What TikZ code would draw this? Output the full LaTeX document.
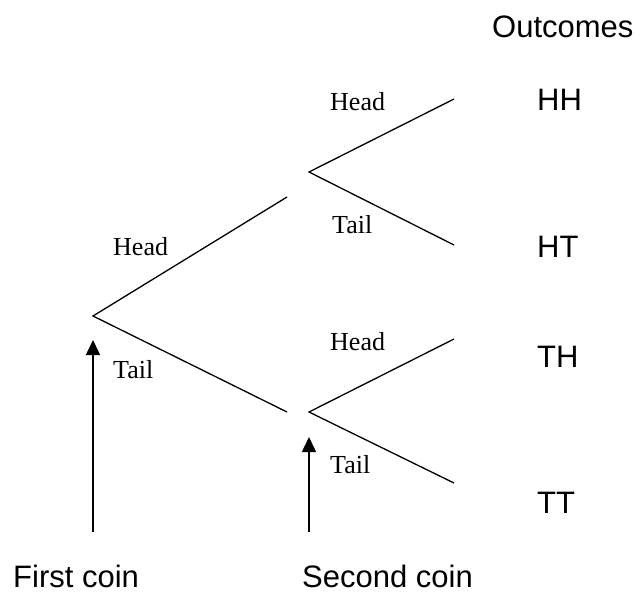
\documentclass[tikz,border=0pt]{standalone}
\usepackage{fontspec}
\setmainfont{Liberation Serif}
\setsansfont{Liberation Sans}
\usetikzlibrary{arrows.meta}
\begin{document}
\begin{tikzpicture}[x=1pt,y=-1pt,
  branch/.style={line width=1.3pt},
  pointer/.style={line width=1.6pt,-{Triangle[length=15pt,width=14pt]}},
  lbl/.style={font=\fontsize{26}{30}\selectfont,anchor=base west,inner sep=0pt},
  big/.style={font=\sffamily\fontsize{31}{36}\selectfont,anchor=base west,inner sep=0pt}]
\useasboundingbox (0,0) rectangle (641,595);
% vertices
\coordinate (r) at (93,316);
\coordinate (a) at (287,197);
\coordinate (b) at (287,412);
\coordinate (c) at (309,172);
\coordinate (d) at (309,412);
\coordinate (e1) at (454,99);
\coordinate (e2) at (454,245);
\coordinate (e3) at (454,339);
\coordinate (e4) at (454,483);
\coordinate (p1) at (93,532);
\coordinate (t1) at (93,340);
\coordinate (p2) at (309,532);
\coordinate (t2) at (309,437);
% branches
\draw[branch] (a) -- (r) -- (b);
\draw[branch] (e1) -- (c) -- (e2);
\draw[branch] (e3) -- (d) -- (e4);
% pointers
\draw[pointer] (p1) -- (t1);
\draw[pointer] (p2) -- (t2);
% branch labels
\node[lbl] (l1) at (113,255) {Head};
\node[lbl] (l2) at (113,378) {Tail};
\node[lbl] (l3) at (330,110) {Head};
\node[lbl] (l4) at (332,233) {Tail};
\node[lbl] (l5) at (330,350) {Head};
\node[lbl] (l6) at (330,473) {Tail};
% outcomes
\node[big] (out) at (492,37) {Outcomes};
\node[big] (hh) at (537,110) {HH};
\node[big] (ht) at (537,257) {HT};
\node[big] (th) at (537,367) {TH};
\node[big] (tt) at (537,513) {TT};
% coins
\node[big] (fc) at (13,587) {First coin};
\node[big] (sc) at (302,587) {Second coin};
\end{tikzpicture}
\end{document}
